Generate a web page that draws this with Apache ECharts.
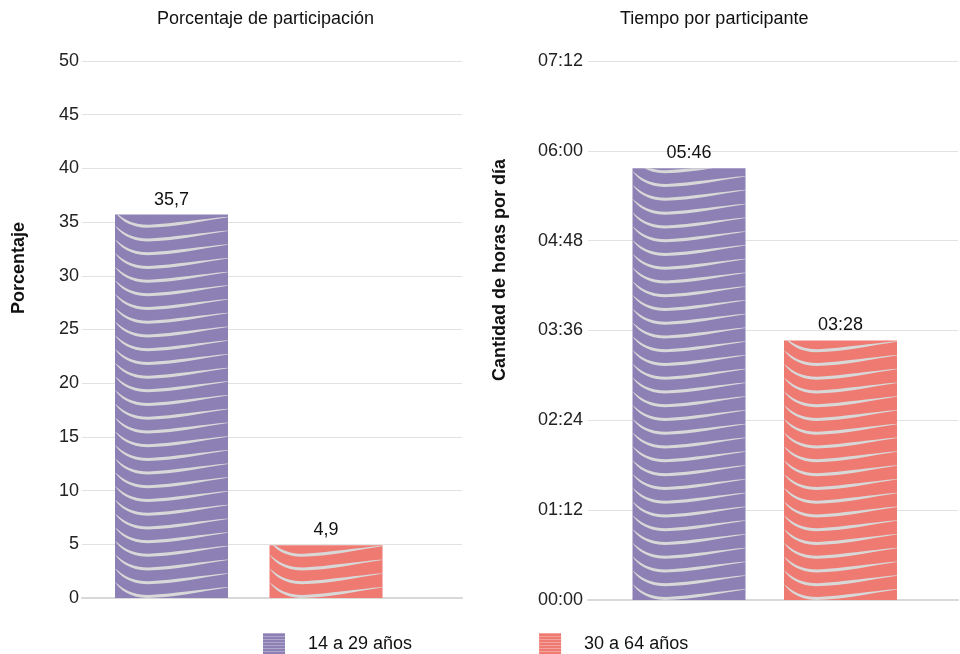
<!DOCTYPE html>
<html><head><meta charset="utf-8">
<script src="https://cdn.jsdelivr.net/npm/echarts@6/dist/echarts.min.js"></script>
<style>html,body{margin:0;padding:0;background:#fff}#c{width:960px;height:654px}</style>
</head><body><div id="c"></div>
<script>
const groups = ['14 a 29 años', '30 a 64 años'];
const participacion = [35.7, 4.9];
const tiempoMin = [346, 208]; // 05:46, 03:28
const titles = ['Porcentaje de participación', 'Tiempo por participante'];
const yNames = ['Porcentaje', 'Cantidad de horas por día'];
const colors = ['#8c80b4', '#ef7a72'];

const FONT = '"Liberation Sans", Arial, sans-serif';
const TXT = '#222';
const swoosh = 'path://M0,0 C5,8 15,15.5 32,16 C60,15.5 88,9 113,5.5 L113,5 C88,7 60,11.5 34,13 C17,13 8,7 0,0 Z';

function hhmm(m) {
  const h = Math.floor(m / 60), mm = Math.round(m % 60);
  return String(h).padStart(2, '0') + ':' + String(mm).padStart(2, '0');
}
function pct(v) { return String(v).replace('.', ','); }

const chart = echarts.init(document.getElementById('c'), null, { renderer: 'canvas' });

const hiddenX = (gi, data) => ({ type: 'category', gridIndex: gi, data: data, show: false });
const hiddenY = (gi, max) => ({ type: 'value', gridIndex: gi, min: 0, max: max, show: false, splitLine: { show: false } });

function visibleY(gi, max, interval, fmt, fs, margin, name, nameGap, namePad) {
  return {
    type: 'value', gridIndex: gi, min: 0, max: max, interval: interval,
    axisLine: { show: false }, axisTick: { show: false },
    axisLabel: { color: TXT, fontSize: fs, fontFamily: FONT, margin: margin, formatter: fmt },
    splitLine: { lineStyle: { color: '#e2e2e2', width: 1 } },
    name: name, nameLocation: 'middle', nameGap: nameGap,
    nameTextStyle: { color: '#111', fontSize: 18, fontWeight: 'bold', fontFamily: FONT, padding: [0, 0, 0, namePad] }
  };
}
function baseX(gi) {
  return {
    type: 'category', gridIndex: gi, data: [''],
    axisLine: { show: true, lineStyle: { color: '#d9d9d9', width: 2 } },
    axisTick: { show: false }, axisLabel: { show: false }
  };
}

function barSeries(xi, yi, idx, values, fmt) {
  const data = values.map((v, i) => (i === idx ? v : '-'));
  return {
    type: 'bar', name: groups[idx], xAxisIndex: xi, yAxisIndex: yi,
    data: data, barWidth: 113, barGap: '-100%',
    itemStyle: { color: colors[idx] },
    label: {
      show: true, position: 'top', distance: 6, color: '#111', fontSize: 18, fontFamily: FONT,
      formatter: p => fmt(p.value)
    },
    z: 2
  };
}
function decoSeries(xi, yi, values, name) {
  return {
    type: 'pictorialBar', name: name, xAxisIndex: xi, yAxisIndex: yi,
    data: values, symbol: swoosh, symbolSize: [113, 16], symbolRepeat: true,
    symbolMargin: -1, symbolClip: true, symbolPosition: 'start',
    itemStyle: { color: '#d8d8d8' }, silent: true, z: 3, animation: false
  };
}

const legendDecal = { symbol: 'rect', symbolSize: 1, dashArrayX: [[1, 0]], dashArrayY: [1, 2], color: 'rgba(255,255,255,0.3)' };

chart.setOption({
  animation: false,
  backgroundColor: '#fff',
  textStyle: { fontFamily: FONT },
  title: [
    { text: titles[0], left: 152, top: 5, textStyle: { fontSize: 18, fontWeight: 'normal', color: '#111', fontFamily: FONT } },
    { text: titles[1], left: 615, top: 5, textStyle: { fontSize: 18, fontWeight: 'normal', color: '#111', fontFamily: FONT } }
  ],
  legend: {
    left: 258, top: 628, itemWidth: 22, itemHeight: 22, itemGap: 127, icon: 'rect',
    textStyle: { color: '#111', fontSize: 18, fontFamily: FONT, padding: [0, 0, 0, 18] },
    data: groups.map(g => ({ name: g, itemStyle: { decal: legendDecal } }))
  },
  grid: [
    { left: 82, right: 498, top: 61, bottom: 56 },
    { left: 94.25, width: 309, top: 61, bottom: 56 },
    { left: 588, right: 2, top: 61, bottom: 54 },
    { left: 613.25, width: 303, top: 61, bottom: 54 }
  ],
  xAxis: [baseX(0), hiddenX(1, groups), baseX(2), hiddenX(3, groups)],
  yAxis: [
    visibleY(0, 50, 5, v => String(v), 18, 3, yNames[0], 54, 123),
    hiddenY(1, 50),
    visibleY(2, 432, 72, v => hhmm(v), 18, 5, yNames[1], 79, 121),
    hiddenY(3, 432)
  ],
  series: [
    barSeries(1, 1, 0, participacion, pct),
    barSeries(1, 1, 1, participacion, pct),
    decoSeries(1, 1, participacion, 'deco1'),
    barSeries(3, 3, 0, tiempoMin, hhmm),
    barSeries(3, 3, 1, tiempoMin, hhmm),
    decoSeries(3, 3, tiempoMin, 'deco2')
  ]
});
</script></body></html>
